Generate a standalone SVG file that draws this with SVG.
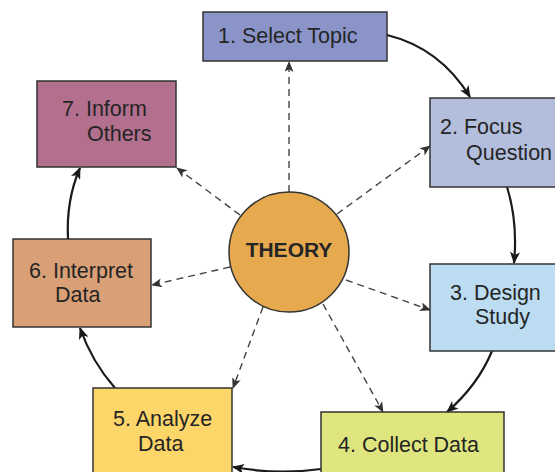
<svg xmlns="http://www.w3.org/2000/svg" width="555" height="472" viewBox="0 0 555 472">
<defs>
<style>
.box{stroke:#333;stroke-width:1.5}
.t{font-family:"Liberation Sans",Arial,sans-serif;font-size:21.5px;fill:#252525}
.solid{fill:none;stroke:#1a1a1a;stroke-width:2.2}
.dash{fill:none;stroke:#444;stroke-width:1.4;stroke-dasharray:7,5}
</style>
<marker id="ah" viewBox="0 0 12 10" refX="11" refY="5" markerWidth="13" markerHeight="10" markerUnits="userSpaceOnUse" orient="auto">
<path d="M0,0 L12,5 L0,10 L3,5 Z" fill="#1a1a1a"/>
</marker>
<marker id="dh" viewBox="0 0 12 10" refX="11" refY="5" markerWidth="12" markerHeight="9" markerUnits="userSpaceOnUse" orient="auto">
<path d="M0,0 L12,5 L0,10 L3,5 Z" fill="#333"/>
</marker>
</defs>
<rect width="555" height="472" fill="#fff"/>
<g id="connectors">
<path class="solid" d="M387,35 Q440,48 470,97" marker-end="url(#ah)"/>
<path class="solid" d="M507,187 Q518,222 514,263" marker-end="url(#ah)"/>
<path class="solid" d="M492,351 Q478,385 447,412" marker-end="url(#ah)"/>
<path class="solid" d="M321,469 Q277,475 233,467" marker-end="url(#ah)"/>
<path class="solid" d="M115,388 Q92,362 80,328" marker-end="url(#ah)"/>
<path class="solid" d="M68,239 Q66,200 80,168" marker-end="url(#ah)"/>
<path class="dash" d="M289,192 L289,62" marker-end="url(#dh)"/>
<path class="dash" d="M337,214 L430,146" marker-end="url(#dh)"/>
<path class="dash" d="M346,280 L430,310" marker-end="url(#dh)"/>
<path class="dash" d="M323,304 L383,412" marker-end="url(#dh)"/>
<path class="dash" d="M263,307 L233,388" marker-end="url(#dh)"/>
<path class="dash" d="M230,267 L152,285" marker-end="url(#dh)"/>
<path class="dash" d="M240,215 L177,168" marker-end="url(#dh)"/>
</g>
<g id="n1"><rect class="box" x="203" y="12" width="184" height="49" fill="#8a94c8"/><text class="t" x="218" y="43">1. Select Topic</text></g>
<g id="n2"><rect class="box" x="430" y="98" width="130" height="89" fill="#b3bedc"/><text class="t" x="440" y="134">2. Focus</text><text class="t" x="466" y="160">Question</text></g>
<g id="n3"><rect class="box" x="430" y="264" width="130" height="87" fill="#bcdcf1"/><text class="t" x="450" y="300">3. Design</text><text class="t" x="475" y="324">Study</text></g>
<g id="n4"><rect class="box" x="321" y="412" width="183" height="70" fill="#dfe57f"/><text class="t" x="338" y="452">4. Collect Data</text></g>
<g id="n5"><rect class="box" x="93" y="388" width="139" height="94" fill="#fdd66a"/><text class="t" x="113" y="426">5. Analyze</text><text class="t" x="138" y="451">Data</text></g>
<g id="n6"><rect class="box" x="13" y="239" width="138" height="88" fill="#d9a077"/><text class="t" x="29" y="278">6. Interpret</text><text class="t" x="55" y="302">Data</text></g>
<g id="n7"><rect class="box" x="37" y="81" width="139" height="86" fill="#b36f8e"/><text class="t" x="62" y="116">7. Inform</text><text class="t" x="87" y="141">Others</text></g>
<g id="theory"><circle cx="289" cy="252" r="60" fill="#e6a94e" stroke="#333" stroke-width="1.5"/><text x="289" y="257" text-anchor="middle" style="font-family:'Liberation Sans',Arial,sans-serif;font-size:21px;font-weight:bold;fill:#252525">THEORY</text></g>
</svg>
